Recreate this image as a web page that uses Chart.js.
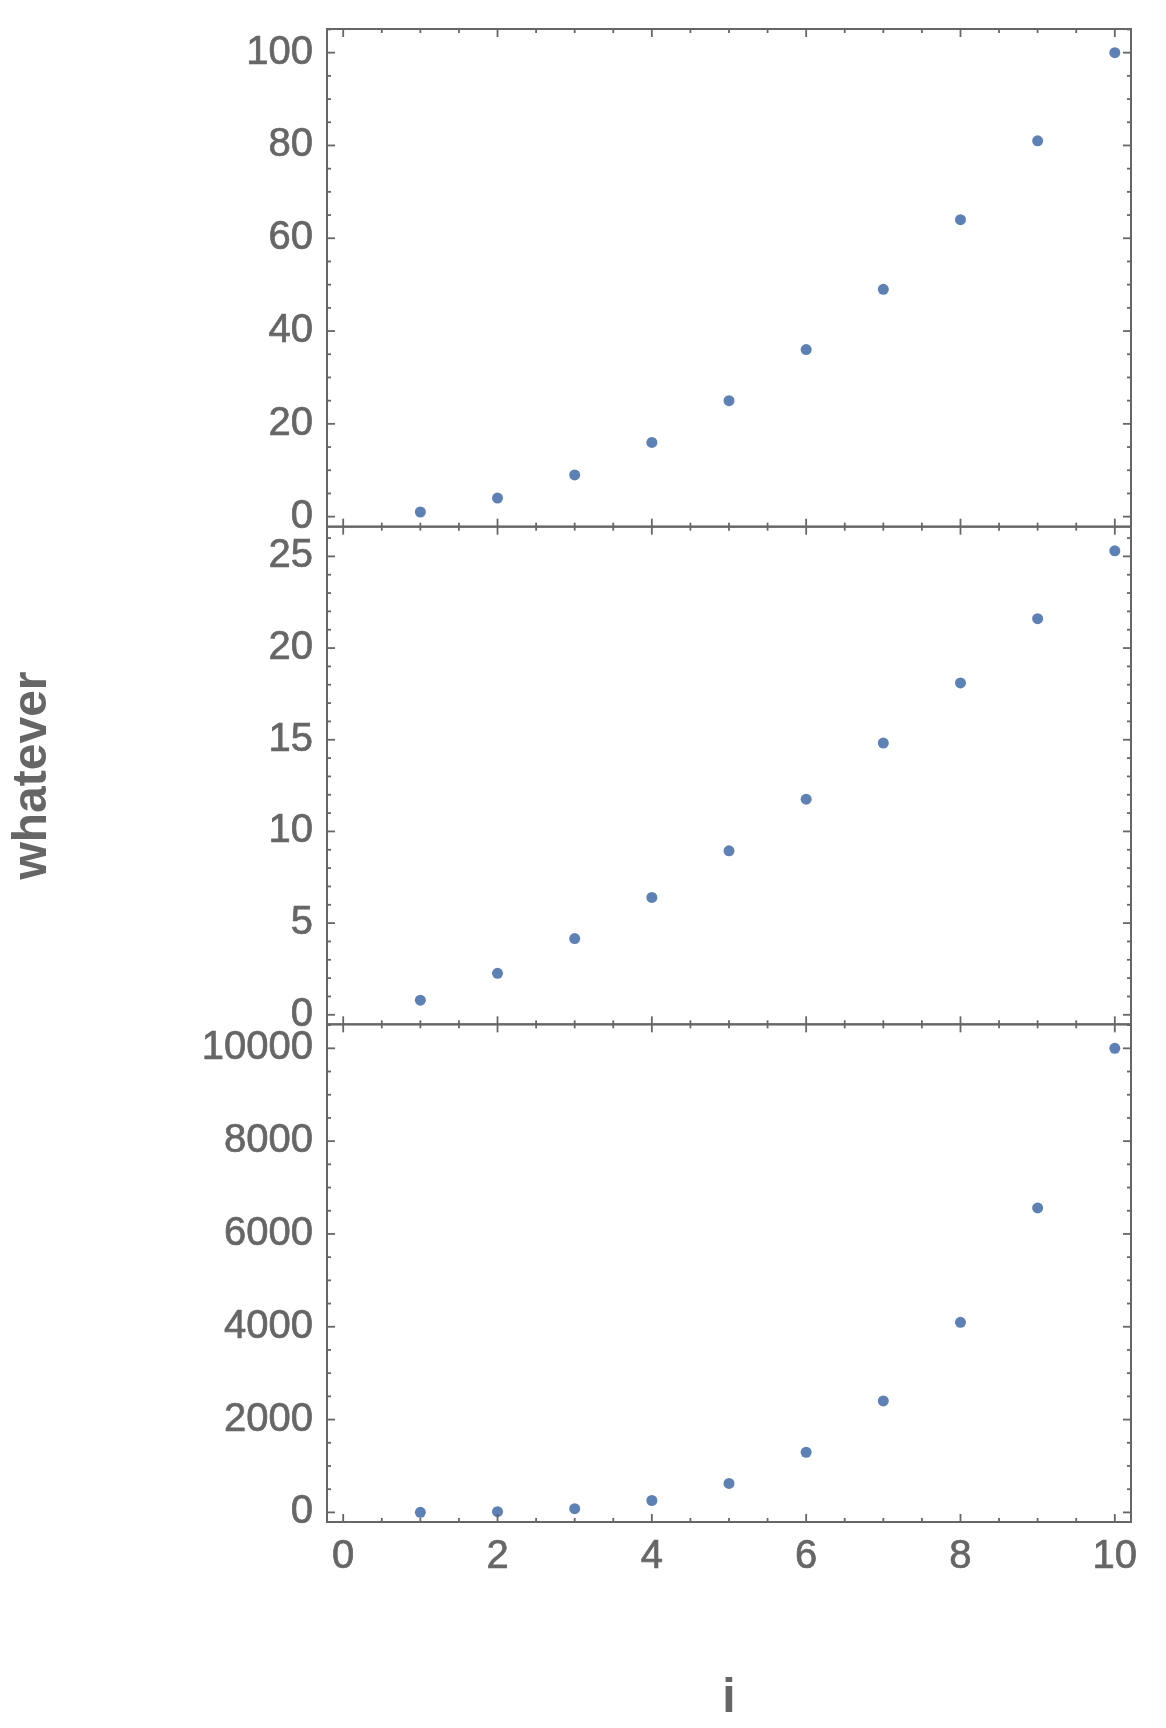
<!DOCTYPE html>
<html>
<head>
<meta charset="utf-8">
<script src="https://cdn.jsdelivr.net/npm/chart.js@4/dist/chart.umd.min.js"></script>
<style>
  html, body { margin: 0; background: #fff; }
  #wrap { width: 1166px; height: 1728px; }
</style>
</head>
<body>
<div id="wrap"><canvas id="stackChart" width="1166" height="1728"></canvas></div>
<script>
// data
const iValues = [1, 2, 3, 4, 5, 6, 7, 8, 9, 10];
const topValues = [1, 4, 9, 16, 25, 36, 49, 64, 81, 100];
const midValues = [0.8, 2.26, 4.16, 6.4, 8.94, 11.76, 14.82, 18.1, 21.6, 25.3];
const bottomValues = [1, 16, 81, 256, 625, 1296, 2401, 4096, 6561, 10000];

const xTicks = [0, 2, 4, 6, 8, 10];
const topTicks = [0, 20, 40, 60, 80, 100];
const midTicks = [0, 5, 10, 15, 20, 25];
const bottomTicks = [0, 2000, 4000, 6000, 8000, 10000];

const gray = '#666666';
const dotColor = '#5E81B5';
const family = '"Liberation Sans", Arial, sans-serif';
const tickFont = { family, size: 40 };
const titleFont = { family, size: 48, weight: 'bold' };

const panels = [
  { id: 'yTop', data: topValues, ticks: topTicks, min: -2.16, max: 105.1, minor: 5 },
  { id: 'yMid', data: midValues, ticks: midTicks, min: -0.52, max: 26.62, minor: 1 },
  { id: 'yBot', data: bottomValues, ticks: bottomTicks, min: -207, max: 10517, minor: 500 },
];

const toPoints = ys => iValues.map((x, k) => ({ x, y: ys[k] }));

const tickStyle = {
  color: gray, font: tickFont, autoSkip: false,
  textStrokeColor: gray, textStrokeWidth: 0.7,
  callback: v => String(v)
};

function yScale(p, withTitle) {
  return {
    type: 'linear',
    position: 'left',
    stack: 'panels',
    stackWeight: 1,
    min: p.min,
    max: p.max,
    afterBuildTicks: s => { s.ticks = p.ticks.map(v => ({ value: v })); },
    afterFit: s => { s.width = 327; s.paddingTop = 0; s.paddingBottom = 0; },
    grid: { display: false, drawTicks: false },
    border: { display: false },
    ticks: { ...tickStyle, padding: 14 },
    title: { display: withTitle, text: 'whatever', color: gray, font: titleFont, padding: { top: 4, bottom: 0 } }
  };
}

// Mathematica-like frame with inward ticks on every side
const framePlugin = {
  id: 'frame',
  afterDatasetsDraw(chart) {
    const ctx = chart.ctx;
    const xs = chart.scales.x;
    const seg = (x1, y1, x2, y2) => { ctx.beginPath(); ctx.moveTo(x1, y1); ctx.lineTo(x2, y2); ctx.stroke(); };
    ctx.save();
    ctx.strokeStyle = gray;
    panels.forEach(p => {
      const ys = chart.scales[p.id];
      const top = ys.top, bottom = ys.bottom, left = xs.left, right = xs.right;
      ctx.lineWidth = 1.8;
      for (let k = Math.ceil(xs.min / 0.5); k * 0.5 <= xs.max; k++) {
        const v = k * 0.5;
        const px = xs.getPixelForValue(v);
        const len = xTicks.includes(v) ? 8 : 4;
        seg(px, top, px, top + len);
        seg(px, bottom, px, bottom - len);
      }
      for (let k = Math.ceil(ys.min / p.minor); k * p.minor <= ys.max; k++) {
        const v = k * p.minor;
        const py = ys.getPixelForValue(v);
        const len = p.ticks.includes(v) ? 8 : 4;
        seg(left, py, left + len, py);
        seg(right, py, right - len, py);
      }
      ctx.lineWidth = 2;
      ctx.strokeRect(left, top, right - left, bottom - top);
    });
    ctx.restore();
  }
};

new Chart(document.getElementById('stackChart'), {
  type: 'scatter',
  data: {
    datasets: panels.map(p => ({
      data: toPoints(p.data),
      yAxisID: p.id,
      backgroundColor: dotColor,
      borderWidth: 0,
      pointRadius: 5.5,
      pointHoverRadius: 5.5
    }))
  },
  options: {
    responsive: false,
    animation: false,
    events: [],
    layout: { padding: { top: 29, right: 35, bottom: 0, left: 0 } },
    plugins: { legend: { display: false }, tooltip: { enabled: false } },
    scales: {
      x: {
        type: 'linear',
        position: 'bottom',
        min: -0.21,
        max: 10.21,
        afterBuildTicks: s => { s.ticks = xTicks.map(v => ({ value: v })); },
        afterFit: s => { s.height = 206; s.paddingLeft = 0; s.paddingRight = 0; },
        grid: { display: false, drawTicks: false },
        border: { display: false },
        ticks: { ...tickStyle, padding: 11, maxRotation: 0 },
        title: { display: true, text: 'i', color: gray, font: titleFont, padding: { top: 0, bottom: 0 } }
      },
      yBot: yScale(panels[2], false),
      yMid: yScale(panels[1], true),
      yTop: yScale(panels[0], false)
    }
  },
  plugins: [framePlugin]
});
</script>
</body>
</html>
